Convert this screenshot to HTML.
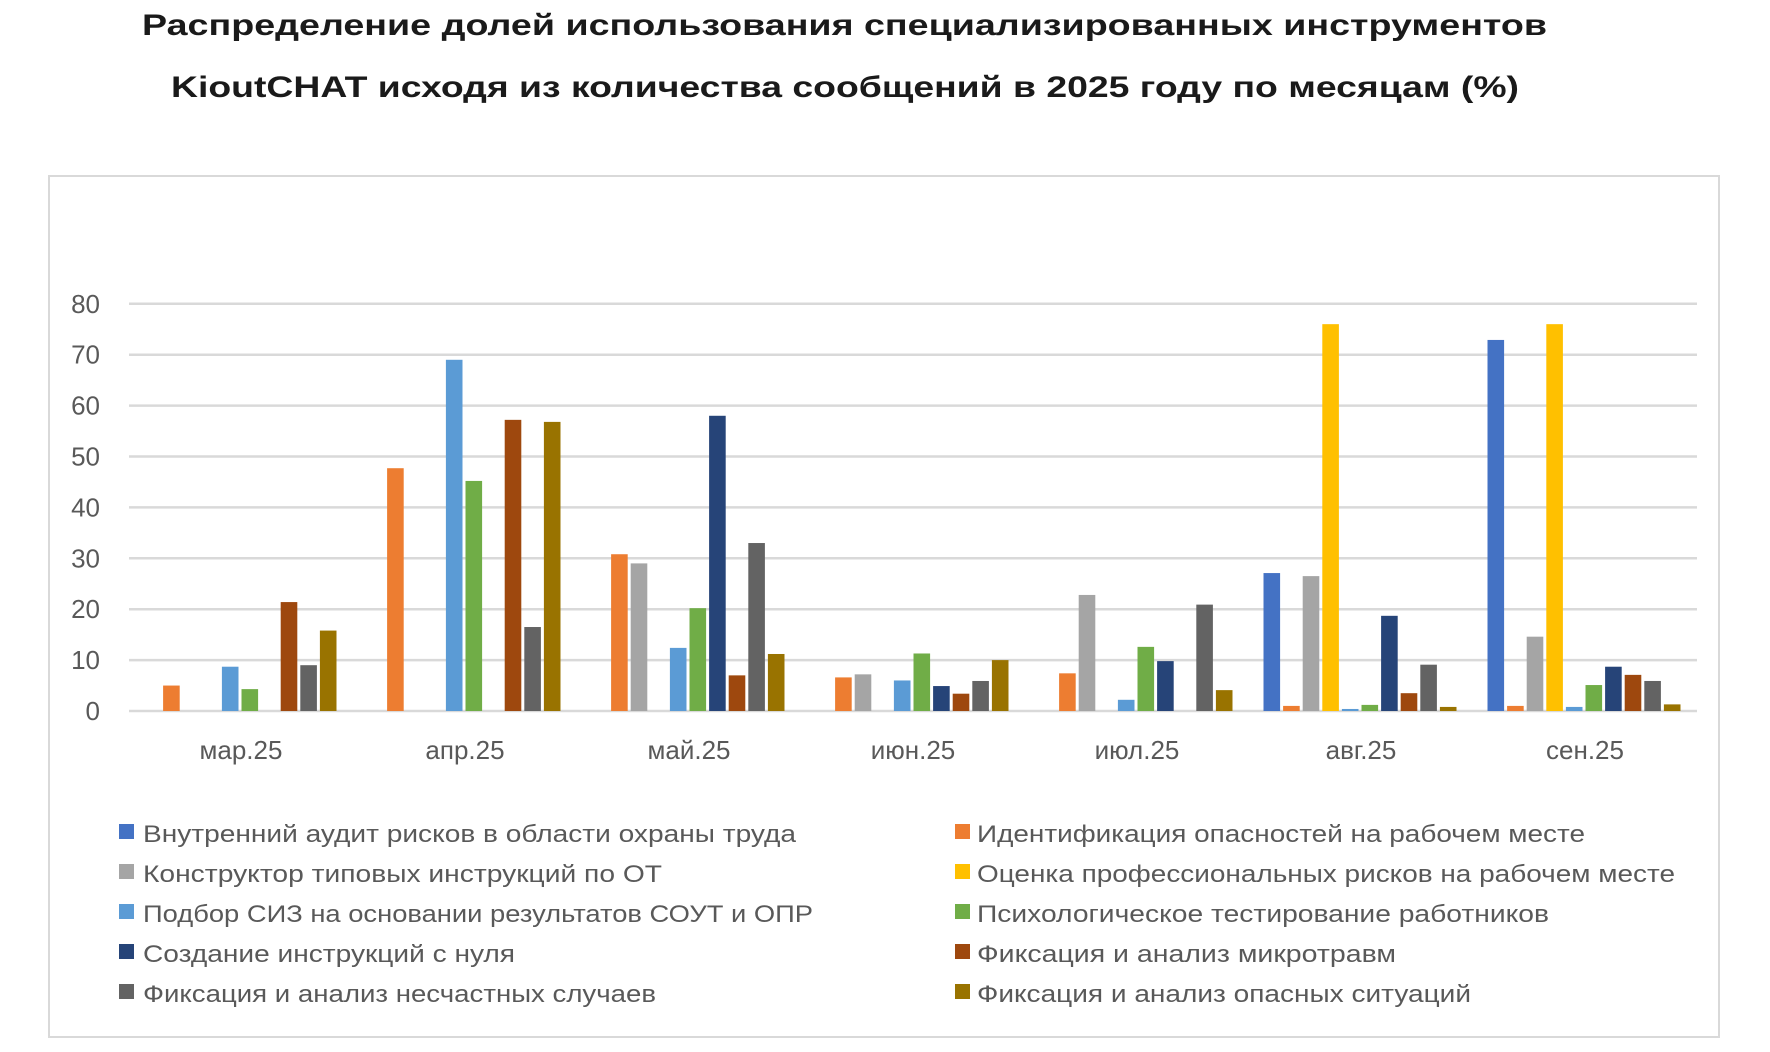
<!DOCTYPE html>
<html><head><meta charset="utf-8"><style>
html,body{margin:0;padding:0;background:#fff;}
svg{display:block;}
</style></head><body>
<svg id="s" width="1770" height="1052" xmlns="http://www.w3.org/2000/svg" font-family="'Liberation Sans', sans-serif">
<rect x="49" y="176" width="1670" height="861" fill="#fff" stroke="#d9d9d9" stroke-width="2"/>
<text x="142" y="35" textLength="1405" lengthAdjust="spacingAndGlyphs" font-size="30" font-weight="bold" fill="#1a1a1a">Распределение долей использования специализированных инструментов</text>
<text x="171" y="97" textLength="1348" lengthAdjust="spacingAndGlyphs" font-size="30" font-weight="bold" fill="#1a1a1a">KioutCHAT исходя из количества сообщений в 2025 году по месяцам (%)</text>
<g id="grid"></g>
<g id="bars"></g>
<g font-size="26" fill="#595959" text-anchor="middle" id="xl"></g>
<g font-size="24" fill="#595959" transform="translate(0,-4)">
<rect x="119" y="828" width="15" height="15" fill="#4472c4"/><text x="143" y="846" textLength="653" lengthAdjust="spacingAndGlyphs">Внутренний аудит рисков в области охраны труда</text>
<rect x="955" y="828" width="15" height="15" fill="#ed7d31"/><text x="977" y="846" textLength="608" lengthAdjust="spacingAndGlyphs">Идентификация опасностей на рабочем месте</text>
<rect x="119" y="868" width="15" height="15" fill="#a5a5a5"/><text x="143" y="886" textLength="519" lengthAdjust="spacingAndGlyphs">Конструктор типовых инструкций по ОТ</text>
<rect x="955" y="868" width="15" height="15" fill="#ffc000"/><text x="977" y="886" textLength="698" lengthAdjust="spacingAndGlyphs">Оценка профессиональных рисков на рабочем месте</text>
<rect x="119" y="908" width="15" height="15" fill="#5b9bd5"/><text x="143" y="926" textLength="670" lengthAdjust="spacingAndGlyphs">Подбор СИЗ на основании результатов СОУТ и ОПР</text>
<rect x="955" y="908" width="15" height="15" fill="#70ad47"/><text x="977" y="926" textLength="572" lengthAdjust="spacingAndGlyphs">Психологическое тестирование работников</text>
<rect x="119" y="948" width="15" height="15" fill="#264478"/><text x="143" y="966" textLength="372" lengthAdjust="spacingAndGlyphs">Создание инструкций с нуля</text>
<rect x="955" y="948" width="15" height="15" fill="#9e480e"/><text x="977" y="966" textLength="419" lengthAdjust="spacingAndGlyphs">Фиксация и анализ микротравм</text>
<rect x="119" y="988" width="15" height="15" fill="#636363"/><text x="143" y="1006" textLength="513" lengthAdjust="spacingAndGlyphs">Фиксация и анализ несчастных случаев</text>
<rect x="955" y="988" width="15" height="15" fill="#997300"/><text x="977" y="1006" textLength="494" lengthAdjust="spacingAndGlyphs">Фиксация и анализ опасных ситуаций</text>
</g>
</svg>
<script>
var NS="http://www.w3.org/2000/svg";
function el(t,a,p,txt){var e=document.createElementNS(NS,t);for(var k in a)e.setAttribute(k,a[k]);if(txt!=null)e.textContent=txt;p.appendChild(e);return e;}
var x0=129,x1=1697,y0=711,sc=5.09;
var g=document.getElementById('grid');
for(var v=0;v<=80;v+=10){var y=y0-v*sc;el('line',{x1:x0,x2:x1,y1:y,y2:y,stroke:'#d9d9d9','stroke-width':2.5},g);
el('text',{x:100,y:y+9,'font-size':26,fill:'#595959','text-anchor':'end'},g,String(v));}
var cols=['#4472c4','#ed7d31','#a5a5a5','#ffc000','#5b9bd5','#70ad47','#264478','#9e480e','#636363','#997300'];
var cats=['мар.25','апр.25','май.25','июн.25','июл.25','авг.25','сен.25'];
var d=[[0,5,0,0,8.7,4.3,0,21.4,9,15.8],
[0,47.7,0,0,69,45.2,0,57.2,16.5,56.8],
[0,30.8,29,0,12.4,20.2,58,7,33,11.2],
[0,6.6,7.2,0,6,11.3,4.9,3.4,5.9,10],
[0,7.4,22.8,0,2.2,12.6,9.8,0,20.9,4.1],
[27.1,1,26.5,76,0.4,1.2,18.7,3.5,9.1,0.8],
[72.9,1,14.6,76,0.8,5.1,8.7,7.1,5.9,1.3]];
var b=document.getElementById('bars'),xl=document.getElementById('xl');
var gw=(x1-x0)/7;
for(var c=0;c<7;c++){var gx=x0+c*gw;
for(var i=0;i<10;i++){var v=d[c][i];if(!v)continue;var h=v*sc;
el('rect',{x:gx+13+i*19.6+1.5,y:y0-h,width:16.6,height:h,fill:cols[i]},b);}
el('text',{x:gx+gw/2,y:759},xl,cats[c]);}
</script>
</body></html>
